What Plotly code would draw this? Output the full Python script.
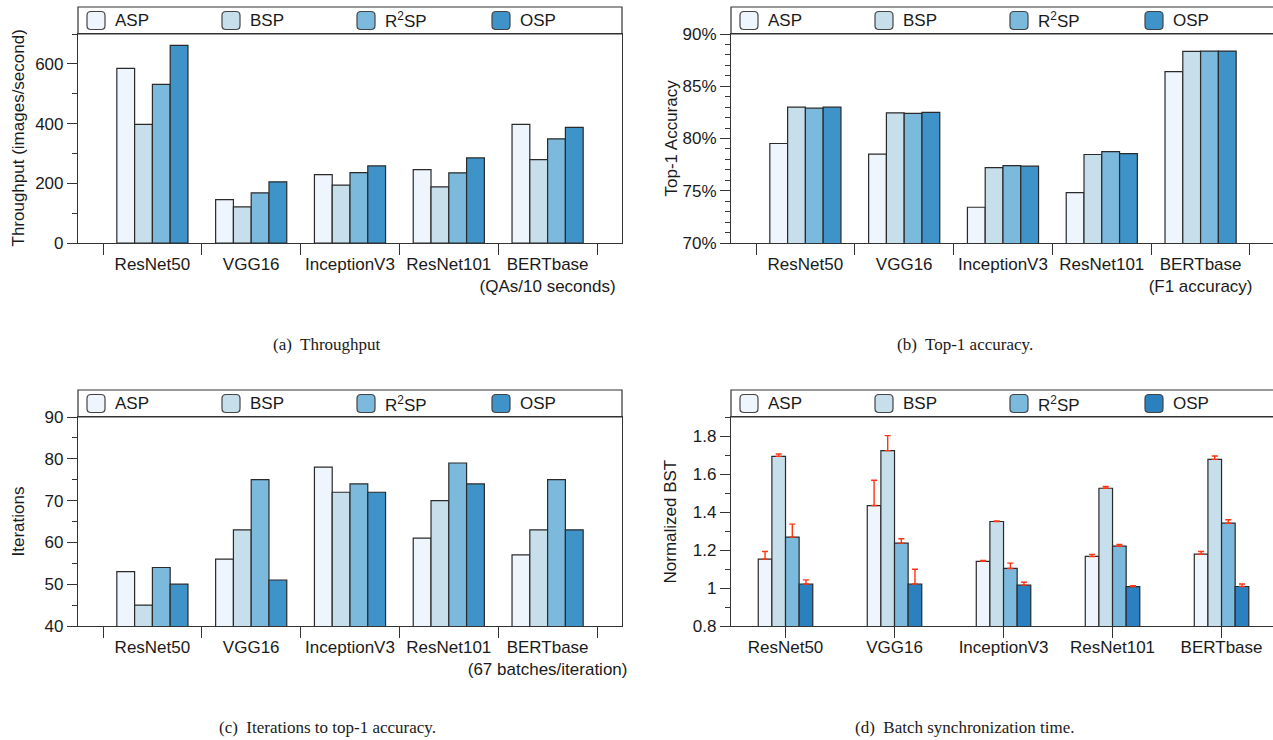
import plotly.graph_objects as go

# ---------------- data ----------------
models = ["ResNet50", "VGG16", "InceptionV3", "ResNet101", "BERTbase"]
series = ["ASP", "BSP", "R<sup>2</sup>SP", "OSP"]

labels_a = ["ResNet50", "VGG16", "InceptionV3", "ResNet101", "BERTbase<br>(QAs/10 seconds)"]
labels_b = ["ResNet50", "VGG16", "InceptionV3", "ResNet101", "BERTbase<br>(F1 accuracy)"]
labels_c = ["ResNet50", "VGG16", "InceptionV3", "ResNet101", "BERTbase<br>(67 batches/iteration)"]
labels_d = ["ResNet50", "VGG16", "InceptionV3", "ResNet101", "BERTbase"]

thr_asp = [585, 145, 229, 246, 397]
thr_bsp = [397, 121, 194, 188, 279]
thr_r2sp = [531, 168, 236, 235, 349]
thr_osp = [662, 205, 258, 285, 387]

acc_asp = [79.52, 78.5, 73.42, 74.82, 86.39]
acc_bsp = [83.0, 82.46, 77.22, 78.47, 88.34]
acc_r2sp = [82.9, 82.4, 77.41, 78.75, 88.37]
acc_osp = [83.0, 82.5, 77.35, 78.56, 88.37]

it_asp = [53, 56, 78, 61, 57]
it_bsp = [45, 63, 72, 70, 63]
it_r2sp = [54, 75, 74, 79, 75]
it_osp = [50, 51, 72, 74, 63]

bst_asp = [1.152, 1.434, 1.140, 1.166, 1.178]
bst_bsp = [1.693, 1.723, 1.350, 1.525, 1.677]
bst_r2sp = [1.268, 1.236, 1.103, 1.220, 1.341]
bst_osp = [1.021, 1.021, 1.015, 1.007, 1.008]

err_asp = [0.040, 0.133, 0.005, 0.011, 0.014]
err_bsp = [0.012, 0.079, 0.003, 0.009, 0.018]
err_r2sp = [0.068, 0.023, 0.028, 0.009, 0.018]
err_osp = [0.022, 0.078, 0.015, 0.005, 0.013]

captions = ["(a)  Throughput", "(b)  Top-1 accuracy.",
            "(c)  Iterations to top-1 accuracy.", "(d)  Batch synchronization time."]
ytitles = ["Throughput (images/second)", "Top-1 Accuracy", "Iterations", "Normalized BST"]

# ---------------- style ----------------
W, H = 1273, 740
colors = ["#eff5fd", "#c6dfeb", "#7bb9dd", "#3e93c8"]
colors_d = ["#eff5fd", "#c6dfeb", "#7bb9dd", "#2b80bf"]
EDGE = "#2a2a2a"
AX = "#333333"
SANS = "Liberation Sans, Arial, sans-serif"
SERIF = "Liberation Serif, Times New Roman, serif"
FS = 17


def fx(px):
    return px / W


def fy(py):
    return 1 - py / H


fig = go.Figure()

panel_data = [
    (labels_a, [thr_asp, thr_bsp, thr_r2sp, thr_osp], None, colors),
    (labels_b, [acc_asp, acc_bsp, acc_r2sp, acc_osp], None, colors),
    (labels_c, [it_asp, it_bsp, it_r2sp, it_osp], None, colors),
    (labels_d, [bst_asp, bst_bsp, bst_r2sp, bst_osp],
     [err_asp, err_bsp, err_r2sp, err_osp], colors_d),
]

for p, (cats, vals, errs, cols) in enumerate(panel_data):
    xa = "x" if p == 0 else f"x{p+1}"
    ya = "y" if p == 0 else f"y{p+1}"
    for i, name in enumerate(series):
        kw = {}
        if errs is not None:
            kw["error_y"] = dict(type="data", symmetric=False, array=errs[i],
                                 arrayminus=[0] * len(errs[i]),
                                 color="#ff3410", thickness=1.4, width=3)
            kw["width"] = 0.125
            kw["offset"] = -0.25 + i * 0.125
        fig.add_trace(go.Bar(
            x=cats, y=vals[i], name=name, xaxis=xa, yaxis=ya,
            marker=dict(color=cols[i], line=dict(color=EDGE, width=1.2)),
            showlegend=False, **kw))

# panel geometry (pixels)
left_x = [(78, 622), (731, 1273), (78, 622), (731, 1273)]
plot_y = [(34, 243), (34, 243), (417, 626), (417, 626)]
box_top = [7, 7, 390, 390]
xranges = [[-0.753, 4.753], [-0.753, 4.733], [-0.753, 4.753], [-0.5, 4.472]]
yranges = [[0, 700], [70, 90], [40, 90], [0.8, 1.9]]
ydt = [(200, 100, 0), (5, 1, 70), (10, 5, 40), (0.2, 0.1, 0.8)]
label_shift = [5, 5, 5, -6]
cap_pos = [(327, 344), (965, 344), (327, 727), (965, 727)]
ytitle_x = [18, 671, 18, 670]

axis_common = dict(showline=True, linecolor=AX, linewidth=1.2, mirror=True,
                   tickcolor=AX, tickwidth=1.2, showgrid=False, zeroline=False,
                   automargin=False,
                   tickfont=dict(family=SANS, size=FS, color="#1a1a1a"))

layout = dict(template="none", width=W, height=H, autosize=False,
              margin=dict(l=0, r=0, t=0, b=0, pad=0, autoexpand=False),
              paper_bgcolor="white", plot_bgcolor="white",
              barmode="group", bargap=0.28, bargroupgap=0,
              showlegend=False, font=dict(family=SANS, size=FS, color="#1a1a1a"))

shapes = []
annotations = []

for p in range(4):
    sx = "" if p == 0 else str(p + 1)
    x0, x1 = left_x[p]
    y0, y1 = plot_y[p]
    major, minor, t0 = ydt[p]
    layout[f"xaxis{sx}"] = dict(
        domain=[fx(x0), fx(x1)], anchor=f"y{sx}", type="category",
        range=xranges[p], ticks="outside", ticklen=11, tickangle=0,
        tickson="boundaries" if p < 3 else "labels",
        ticklabelstandoff=label_shift[p],
        **axis_common)
    yax = dict(domain=[fy(y1), fy(y0)], anchor=f"x{sx}", range=yranges[p],
               ticks="outside", ticklen=10, dtick=major, tick0=t0,
               minor=dict(dtick=minor, tick0=t0, ticks="outside", ticklen=5,
                          tickcolor=AX, tickwidth=1.2),
               **axis_common)
    if p == 1:
        yax["ticksuffix"] = "%"
    layout[f"yaxis{sx}"] = yax

    # legend box
    shapes.append(dict(type="rect", xref="paper", yref="paper",
                       x0=fx(x0), x1=fx(x1) if x1 < W else 1.005,
                       y0=fy(y0), y1=fy(box_top[p]),
                       line=dict(color=AX, width=1.2), fillcolor="rgba(0,0,0,0)"))
    cy = (box_top[p] + y0) / 2.0
    cols = panel_data[p][3]
    for i, name in enumerate(series):
        sx0 = x0 + 9 + 135 * i
        sx1 = sx0 + 18
        sy0 = cy - 9
        sy1 = cy + 9
        r = 4
        path = (f"M {fx(sx0 + r)},{fy(sy0)} L {fx(sx1 - r)},{fy(sy0)} "
                f"Q {fx(sx1)},{fy(sy0)} {fx(sx1)},{fy(sy0 + r)} "
                f"L {fx(sx1)},{fy(sy1 - r)} Q {fx(sx1)},{fy(sy1)} {fx(sx1 - r)},{fy(sy1)} "
                f"L {fx(sx0 + r)},{fy(sy1)} Q {fx(sx0)},{fy(sy1)} {fx(sx0)},{fy(sy1 - r)} "
                f"L {fx(sx0)},{fy(sy0 + r)} Q {fx(sx0)},{fy(sy0)} {fx(sx0 + r)},{fy(sy0)} Z")
        shapes.append(dict(type="path", xref="paper", yref="paper", path=path,
                           fillcolor=cols[i], line=dict(color="#444444", width=1.2)))
        annotations.append(dict(xref="paper", yref="paper", x=fx(sx0 + 26), y=fy(cy),
                                xanchor="left", yanchor="middle", showarrow=False,
                                text=name, font=dict(family=SANS, size=FS, color="#1a1a1a")))

    # y-axis title
    annotations.append(dict(xref="paper", yref="paper", x=fx(ytitle_x[p]),
                            y=fy((y0 + y1) / 2.0), xanchor="center", yanchor="middle",
                            textangle=-90, showarrow=False, text=ytitles[p],
                            font=dict(family=SANS, size=FS, color="#1a1a1a")))
    # caption
    annotations.append(dict(xref="paper", yref="paper", x=fx(cap_pos[p][0]),
                            y=fy(cap_pos[p][1]), xanchor="center", yanchor="middle",
                            showarrow=False, text=captions[p],
                            font=dict(family=SERIF, size=FS, color="#1a1a1a")))

layout["shapes"] = shapes
layout["annotations"] = annotations
fig.update_layout(**layout)

fig.write_html("out.html", config={"displayModeBar": False},
               post_script="document.body.style.margin='0';document.body.style.overflow='hidden';")
